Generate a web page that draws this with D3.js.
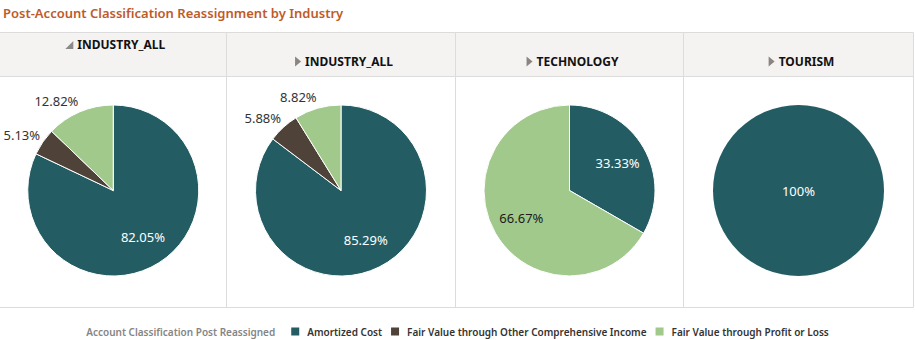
<!DOCTYPE html>
<html>
<head>
<meta charset="utf-8">
<script src="https://cdn.jsdelivr.net/npm/d3@7"></script>
<style>
  body { margin: 0; background: #fff; }
  svg { display: block; font-family: "Noto Sans", sans-serif; }
</style>
</head>
<body>
<div id="chart"></div>
<script>
// Share of accounts per classification, one pie per industry column
const industries = ['INDUSTRY_ALL', 'INDUSTRY_ALL', 'TECHNOLOGY', 'TOURISM'];
const expanded = [true, false, false, false];
const classes = ['Amortized Cost', 'Fair Value through Other Comprehensive Income', 'Fair Value through Profit or Loss'];
const amortized = [82.05, 85.29, 33.33, 100];
const fvoci = [5.13, 5.88, 0, 0];
const fvtpl = [12.82, 8.82, 66.67, 0];

const width = 915, height = 340;
const colors = d3.scaleOrdinal().domain(classes).range(['#235d63', '#4f4339', '#a1c98b']);
const labelInk = d3.scaleOrdinal().domain(classes).range(['#fff', '#fff', '#1a1a1a']);

const svg = d3.select('#chart').append('svg')
  .attr('width', width).attr('height', height);

svg.append('text')
  .attr('x', 3).attr('y', 18)
  .attr('font-size', 13).attr('font-weight', 600)
  .attr('fill', '#c05a28')
  .text('Post-Account Classification Reassignment by Industry');

// grid columns
const edges = [0, 226.5, 455.5, 683.5, 913.5];
const gridTop = 32.5, headBottom = 76.5, gridBottom = 307.5;

svg.append('rect')
  .attr('x', 0).attr('y', gridTop).attr('width', 913.5).attr('height', headBottom - gridTop)
  .attr('fill', '#f4f3f2');

const grid = svg.append('g').attr('stroke', '#dcdcdc').attr('stroke-width', 1);
[gridTop, headBottom, gridBottom].forEach(y => grid.append('line')
  .attr('x1', 0).attr('x2', 913.5).attr('y1', y).attr('y2', y));
edges.slice(1).forEach(x => grid.append('line')
  .attr('x1', x).attr('x2', x).attr('y1', gridTop).attr('y2', gridBottom));

const pie = d3.pie().sort(null).value(d => d.value);
const r = 85.5, cy = 190.5;
const arc = d3.arc().innerRadius(0).outerRadius(r);
const fmt = v => (+v.toFixed(2)) + '%';

industries.forEach((name, i) => {
  const cx = (edges[i] + edges[i + 1]) / 2;

  // column header with drill triangle
  const hy = expanded[i] ? 49 : 66;
  const head = svg.append('g');
  const t = head.append('text')
    .attr('x', cx + 8).attr('y', hy)
    .attr('text-anchor', 'middle')
    .attr('font-size', 12).attr('font-weight', 700).attr('fill', '#111')
    .text(name);
  const tx = cx + 8 - t.node().getComputedTextLength() / 2;
  if (expanded[i]) {
    head.append('path')
      .attr('d', `M${tx - 4},${hy - 8} L${tx - 4},${hy} L${tx - 12},${hy} Z`)
      .attr('fill', '#8a8a8a');
  } else {
    head.append('path')
      .attr('d', `M${tx - 10},${hy - 9.5} L${tx - 4},${hy - 4.5} L${tx - 10},${hy + 0.5} Z`)
      .attr('fill', '#8a8580');
  }

  const rows = classes.map((c, k) => ({ key: c, value: [amortized, fvoci, fvtpl][k][i] }))
    .filter(d => d.value > 0);
  const g = svg.append('g').attr('transform', `translate(${cx},${cy})`);
  const arcs = pie(rows);

  g.selectAll('path').data(arcs).enter().append('path')
    .attr('d', arc)
    .attr('fill', d => colors(d.data.key))
    .attr('stroke', arcs.length > 1 ? '#fff' : 'none')
    .attr('stroke-width', 1);

  g.selectAll('text').data(arcs).enter().append('text')
    .attr('font-size', 13)
    .attr('dominant-baseline', 'central')
    .each(function(d) {
      const a = (d.startAngle + d.endAngle) / 2;
      const sel = d3.select(this);
      if (arcs.length === 1) {
        sel.attr('x', 0).attr('y', 0).attr('text-anchor', 'middle').attr('fill', '#fff');
      } else if (d.data.value < 15) {
        sel.attr('x', Math.sin(a) * r * 1.04).attr('y', -Math.cos(a) * r * 1.14)
          .attr('text-anchor', Math.sin(a) < 0 ? 'end' : 'start')
          .attr('fill', '#333');
      } else {
        sel.attr('x', Math.sin(a) * r * 0.65).attr('y', -Math.cos(a) * r * 0.65)
          .attr('text-anchor', 'middle')
          .attr('fill', labelInk(d.data.key));
      }
    })
    .text(d => fmt(d.data.value));
});

// legend, centred under the grid
const legend = svg.append('g');
const ly = 331.5;
let x = 0;
const lt = legend.append('text')
  .attr('x', x).attr('y', ly).attr('dominant-baseline', 'central')
  .attr('font-size', 10).attr('font-weight', 600).attr('fill', '#858585')
  .text('Account Classification Post Reassigned');
x += lt.node().getComputedTextLength() + 16;
classes.forEach(c => {
  legend.append('rect')
    .attr('x', x).attr('y', ly - 4).attr('width', 8).attr('height', 8)
    .attr('fill', colors(c));
  x += 16;
  const it = legend.append('text')
    .attr('x', x).attr('y', ly).attr('dominant-baseline', 'central')
    .attr('font-size', 10).attr('font-weight', 600).attr('fill', '#333')
    .text(c);
  x += it.node().getComputedTextLength() + 9;
});
legend.attr('transform', `translate(${457.5 - (x - 9) / 2},0)`);
</script>
</body>
</html>
